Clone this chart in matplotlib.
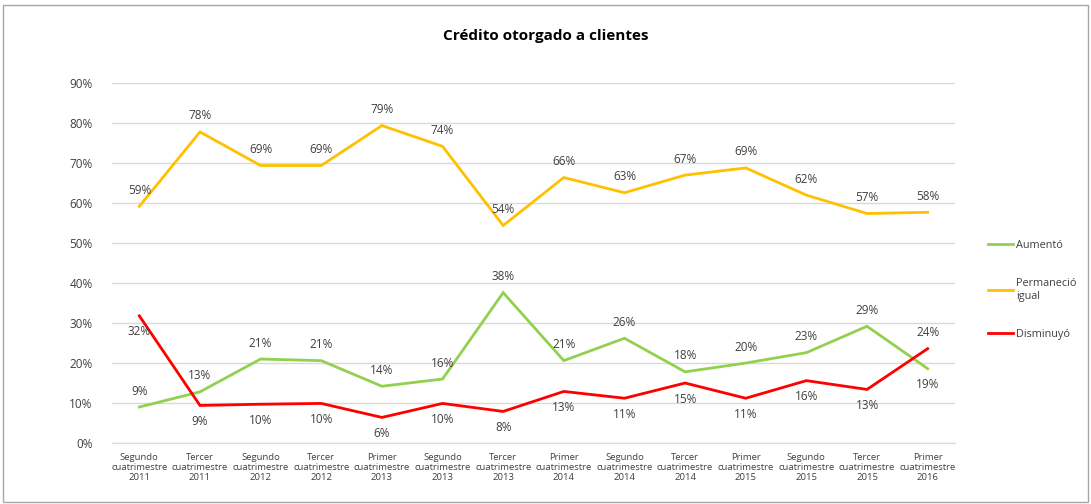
import matplotlib.pyplot as plt
from matplotlib.ticker import FuncFormatter

# categorias del eje x
periodos = ['Segundo\ncuatrimestre\n2011', 'Tercer\ncuatrimestre\n2011',
            'Segundo\ncuatrimestre\n2012', 'Tercer\ncuatrimestre\n2012',
            'Primer\ncuatrimestre\n2013', 'Segundo\ncuatrimestre\n2013',
            'Tercer\ncuatrimestre\n2013', 'Primer\ncuatrimestre\n2014',
            'Segundo\ncuatrimestre\n2014', 'Tercer\ncuatrimestre\n2014',
            'Primer\ncuatrimestre\n2015', 'Segundo\ncuatrimestre\n2015',
            'Tercer\ncuatrimestre\n2015', 'Primer\ncuatrimestre\n2016']

# valores en %
aumento = [9.0, 12.8, 21.0, 20.6, 14.2, 16.0, 37.6, 20.6, 26.2, 17.8, 20.0, 22.6, 29.2, 18.6]
permanecio = [59.2, 77.8, 69.4, 69.4, 79.4, 74.2, 54.4, 66.4, 62.6, 67.0, 68.8, 62.0, 57.4, 57.7]
disminuyo = [31.8, 9.4, 9.7, 9.9, 6.4, 9.9, 7.9, 12.9, 11.2, 15.0, 11.2, 15.6, 13.4, 23.6]

# posicion de las etiquetas (1 = arriba, -1 = abajo)
pos_aumento = [1] * 13 + [-1]
pos_permanecio = [1] * 14
pos_disminuyo = [-1] * 13 + [1]

verde = '#92D050'
amarillo = '#FFC000'
rojo = '#FF0000'
texto = '#404040'

plt.rcParams['font.family'] = ['Open Sans', 'DejaVu Sans']

fig = plt.figure(figsize=(10.91, 5.04), dpi=100)
ax = fig.add_axes([0.1027, 0.121, 0.7726, 0.714])

x = list(range(len(periodos)))
series = [
    (aumento, pos_aumento, verde, 'Aumentó'),
    (permanecio, pos_permanecio, amarillo, 'Permaneció\nigual'),
    (disminuyo, pos_disminuyo, rojo, 'Disminuyó'),
]

lines = []
for vals, pos, col, lab in series:
    ln, = ax.plot(x, vals, color=col, linewidth=2.0, label=lab, solid_joinstyle='miter')
    lines.append(ln)
    for xi, v, p in zip(x, vals, pos):
        ax.annotate(f'{v:.0f}%', (xi, v), xytext=(0, 11.5 * p), textcoords='offset points',
                    ha='center', va='center', fontsize=8.5, color=texto)

ax.set_xlim(-0.45, len(periodos) - 0.55)
ax.set_ylim(0, 90)
ax.set_yticks(range(0, 91, 10))
ax.yaxis.set_major_formatter(FuncFormatter(lambda v, p: f'{v:.0f}%'))
ax.set_xticks(x)
ax.set_xticklabels(periodos, fontsize=6.8, color=texto, linespacing=1.15)
ax.tick_params(axis='y', length=0, labelsize=8.5, labelcolor=texto, pad=14)
ax.tick_params(axis='x', length=0, pad=7)

ax.grid(axis='y', color='#D9D9D9', linewidth=1)
ax.set_axisbelow(True)
for s in ['top', 'right', 'left']:
    ax.spines[s].set_visible(False)
ax.spines['bottom'].set_color('#D9D9D9')

fig.text(0.5, 0.928, 'Crédito otorgado a clientes', ha='center', va='center',
         fontsize=11, fontweight='bold', color='black')

fig.legend(handles=lines, loc='center left', bbox_to_anchor=(0.897, 0.425),
           frameon=False, fontsize=7.8, handlelength=2.3, handletextpad=0.25,
           labelspacing=2.5, labelcolor=texto)

# marco exterior
fig.patches.append(plt.Rectangle((0.003, 0.003), 0.994, 0.988, transform=fig.transFigure,
                                 fill=False, edgecolor='#A6A6A6', linewidth=1))

fig.savefig('out.png', dpi=100)
